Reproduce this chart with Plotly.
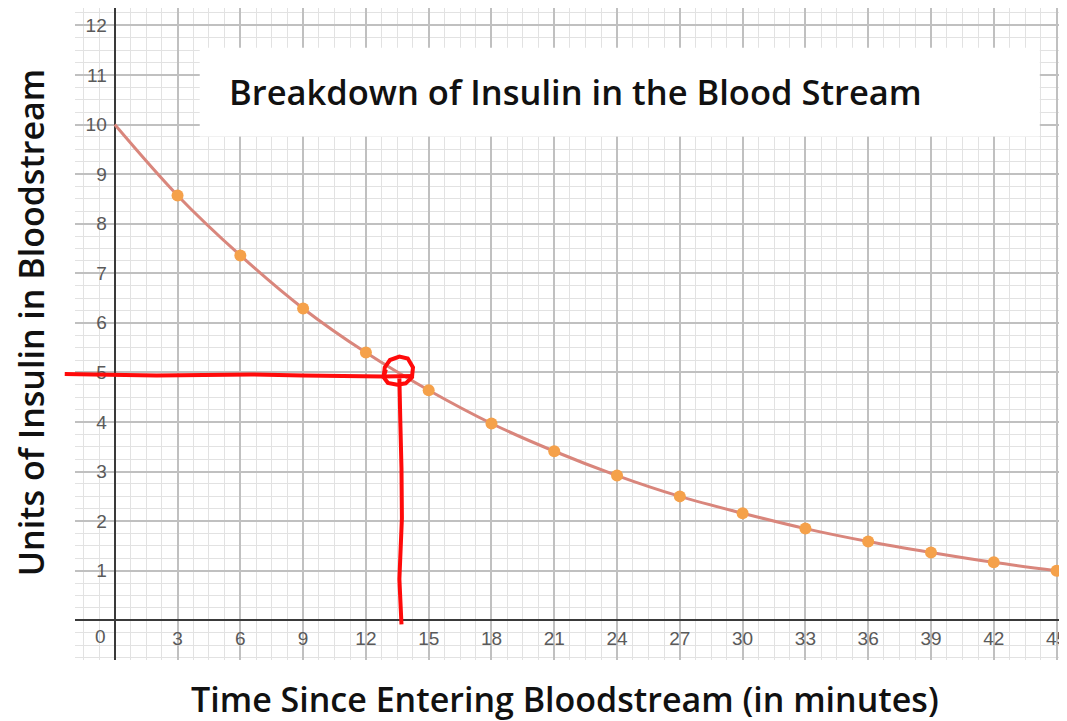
import plotly.graph_objects as go

# ---- data ----
time_min = [0, 3, 6, 9, 12, 15, 18, 21, 24, 27, 30, 33, 36, 39, 42, 45]
insulin_units = [10.0, 8.57, 7.36, 6.29, 5.40, 4.64, 3.97, 3.41, 2.92, 2.50, 2.16, 1.85, 1.59, 1.37, 1.17, 1.00]
x_ticks = [3, 6, 9, 12, 15, 18, 21, 24, 27, 30, 33, 36, 39, 42, 45]
y_ticks = [1, 2, 3, 4, 5, 6, 7, 8, 9, 10, 11, 12]

title_text = "Breakdown of Insulin in the Blood Stream"
x_title = "Time Since Entering Bloodstream (in minutes)"
y_title = "Units of Insulin in Bloodstream"

# hand-drawn red marking (data units)
hand_h_x = [-2.39, -1.0, 2.0, 6.5, 9.0, 12.8, 14.3]
hand_h_y = [4.97, 4.96, 4.94, 4.96, 4.94, 4.92, 4.93]
hand_v_x = [13.6, 13.64, 13.7, 13.72, 13.6, 13.7]
hand_v_y = [4.88, 4.08, 3.07, 2.06, 0.83, -0.08]
hand_c_x = [12.85, 12.9, 13.15, 13.6, 14.0, 14.25, 14.2, 13.9, 13.5, 13.05, 12.85, 12.95]
hand_c_y = [4.92, 5.10, 5.25, 5.32, 5.28, 5.10, 4.90, 4.78, 4.75, 4.79, 4.90, 5.06]

X_RANGE = [-1.9, 45.5]
Y_RANGE = [-0.8, 12.35]


def to_paper_x(v):
    return (v - X_RANGE[0]) / (X_RANGE[1] - X_RANGE[0])


def to_paper_y(v):
    return (v - Y_RANGE[0]) / (Y_RANGE[1] - Y_RANGE[0])


def path_from(xs, ys):
    pts = [f"{to_paper_x(a):.5f},{to_paper_y(b):.5f}" for a, b in zip(xs, ys)]
    return "M " + " L ".join(pts)


fig = go.Figure()

fig.add_trace(go.Scatter(
    x=time_min, y=insulin_units, mode="lines",
    line=dict(color="#d9867c", width=3, shape="spline", smoothing=1.0),
    hoverinfo="skip", showlegend=False,
))
fig.add_trace(go.Scatter(
    x=time_min[1:], y=insulin_units[1:], mode="markers",
    marker=dict(color="#f5a14a", size=12),
    showlegend=False,
))

grid_major = "#c0c0c0"
grid_minor = "#e2e2e2"
tick_font = dict(family="Liberation Sans, Arial, sans-serif", size=19, color="#5a5a5a")
title_font_family = "Open Sans, sans-serif"

fig.update_xaxes(
    range=X_RANGE, tickvals=x_ticks, ticktext=[str(v) for v in x_ticks],
    showgrid=True, gridcolor=grid_major, gridwidth=1.5,
    minor=dict(dtick=0.75, tick0=0, showgrid=True, gridcolor=grid_minor, gridwidth=1),
    zeroline=True, zerolinecolor="#3a3a3a", zerolinewidth=2,
    anchor="free", position=to_paper_y(0), showline=False, ticks="",
    tickfont=tick_font, ticklabelstandoff=5, ticklabeloverflow="allow",
)
fig.update_yaxes(
    range=Y_RANGE, tickvals=y_ticks, ticktext=[str(v) for v in y_ticks],
    showgrid=True, gridcolor=grid_major, gridwidth=1.5,
    minor=dict(dtick=0.25, tick0=0, showgrid=True, gridcolor=grid_minor, gridwidth=1),
    zeroline=True, zerolinecolor="#3a3a3a", zerolinewidth=2,
    anchor="free", position=to_paper_x(0), showline=False, ticks="",
    tickfont=tick_font, ticklabelstandoff=8,
)

shapes = [
    dict(type="rect", xref="paper", yref="paper",
         x0=to_paper_x(4.06), x1=to_paper_x(44.2), y0=to_paper_y(9.76), y1=to_paper_y(11.55),
         fillcolor="white", line=dict(width=0), layer="above"),
]
for xs, ys in [(hand_h_x, hand_h_y), (hand_v_x, hand_v_y), (hand_c_x, hand_c_y)]:
    shapes.append(dict(type="path", xref="paper", yref="paper", path=path_from(xs, ys),
                       line=dict(color="#ff0a0a", width=4), layer="above"))

annotations = [
    dict(text=title_text, xref="paper", yref="paper",
         x=to_paper_x(5.35), y=to_paper_y(10.66), xanchor="left", yanchor="middle",
         showarrow=False, font=dict(family=title_font_family, size=34.5, weight=600, color="#111111")),
    dict(text=x_title, xref="paper", yref="paper", x=to_paper_x(21.5), y=-0.060,
         xanchor="center", yanchor="middle", showarrow=False,
         font=dict(family=title_font_family, size=34, weight=600, color="#111111")),
    dict(text=y_title, xref="paper", yref="paper", x=-0.045, y=to_paper_y(6.0),
         xanchor="center", yanchor="middle", textangle=-90, showarrow=False,
         font=dict(family=title_font_family, size=34, weight=600, color="#111111")),
    dict(text="0", xref="x", yref="y", x=-0.7, y=-0.32, xanchor="center", yanchor="middle",
         showarrow=False, font=tick_font),
]

# The page has an 8px body margin, so the figure is sized/offset to compensate.
fig.update_layout(
    width=1059, height=713,
    margin=dict(l=67, r=0, t=0, b=61),
    paper_bgcolor="white", plot_bgcolor="white",
    shapes=shapes, annotations=annotations,
    showlegend=False,
)

fig.write_html("out.html")
